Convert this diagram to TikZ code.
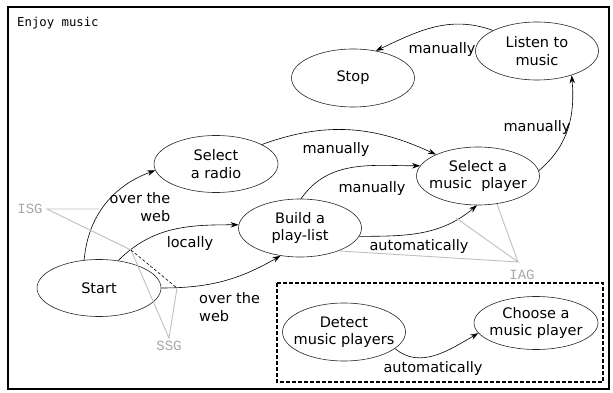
\documentclass[tikz,border=0pt]{standalone}
\usepackage{fontspec}
\setmainfont{DejaVu Sans}
\setmonofont{DejaVu Sans Mono}
\newfontfamily\tagfont{Liberation Mono}
\usetikzlibrary{arrows.meta,
                shapes.geometric}

\begin{document}
\begin{tikzpicture}[
x=1pt, y=1pt,
every node/.style = {inner sep=0pt, font=\fontsize{14.5}{17.5}\selectfont},
state/.style = {ellipse, draw=black!85, line width=0.6pt, inner xsep=-10pt, inner ysep=-6pt,
                minimum width=123pt, minimum height=58pt, align=center},
tag/.style = {text=black!35, inner xsep=4pt, inner ysep=3pt, font=\tagfont\fontsize{14}{16}\selectfont},
tagline/.style = {draw=black!25, line width=0.9pt},
arr/.style = {-{Stealth[length=8pt,width=5.5pt]}, line width=0.6pt}
                        ]
    \useasboundingbox (0,0) rectangle (613,-393);
    \draw[line width=1.2pt] (8,-7) rectangle (609,-389);
    \node (title) at (17,-23) [anchor=west, font=\ttfamily\fontsize{12.3}{14}\selectfont] {Enjoy music};
    \draw[dashed, line width=1.1pt, dash pattern=on 4pt off 2pt] (277,-283) rectangle (603,-382);

    % activities
    \node (stop) at (353,-78) [state] {Stop};
    \node (listen) at (537,-51) [state] {Listen to\\music};
    \node (radio) at (216,-164) [state, minimum width=124pt, minimum height=57pt] {Select\\a radio};
    \node (build) at (300,-228) [state] {Build a\\play-list};
    \node (player) at (478,-176) [state] {Select a\\music~ player};
    \node (start) at (99,-288) [state, minimum width=124pt, minimum height=57pt] {Start};
    \node (detect) at (344,-332) [state] {Detect\\music players};
    \node (choose) at (536,-323) [state, minimum width=124pt, minimum height=53pt] {Choose a\\music player};

    % transitions
    \draw[arr] (start.118) to[out=85,in=200] (radio.186);
    \draw[arr] (start.55) to[out=45,in=180] (build.177);
    \draw[arr] (start.east) to[out=0,in=210] (build.235);
    \draw[arr] (radio.23) to[out=20,in=155] (player.153);
    \draw[arr] (build.88) to[out=55,in=180] (player.170);
    \draw[arr] (build.352) to[out=0,in=220] (player.268);
    \draw[arr] (player.5) to[out=40,in=-85] (listen.-35);
    \draw[arr] (listen.155) to[out=160,in=25] (stop.50);
    \draw[arr] (detect.-18) to[out=-40,in=210] (choose.190);

    \node (web1) at (140,-207) [align=right] {over the\\web};
    \node (loc) at (190,-243) {locally};
    \node (web2) at (199,-307) [anchor=west, align=left] {over the\\web};
    \node (man1) at (336,-149) {manually};
    \node (man2) at (372,-188) {manually};
    \node (auto1) at (419,-246) {automatically};
    \node (man3) at (537,-127) {manually};
    \node (man4) at (442,-50) {manually};
    \node (auto2) at (433,-368) {automatically};

    % grey annotations
    \node (isg) at (30,-209) [tag] {ISG};
    \node (ssg) at (169,-346) [tag] {SSG};
    \node (iag) at (522,-275) [tag] {IAG};
    \coordinate (isgA) at (99,-209);
    \coordinate (cutA) at (131,-250);
    \coordinate (cutB) at (177,-288);
    \coordinate (iagTop) at (518,-262);
    \coordinate (iagA) at (340,-251);
    \coordinate (iagB) at (456,-218);
    \coordinate (iagC) at (497,-204);

    \draw[tagline] (isgA) -- (isg.east) -- (cutA)
                   (cutA) -- (ssg.north) -- (cutB)
                   (iagA) -- (iagTop) -- (iagB)
                   (iagTop) -- (iagC);
    \draw[densely dashed, line width=0.6pt] (cutA) -- (cutB);
\end{tikzpicture}
\end{document}
